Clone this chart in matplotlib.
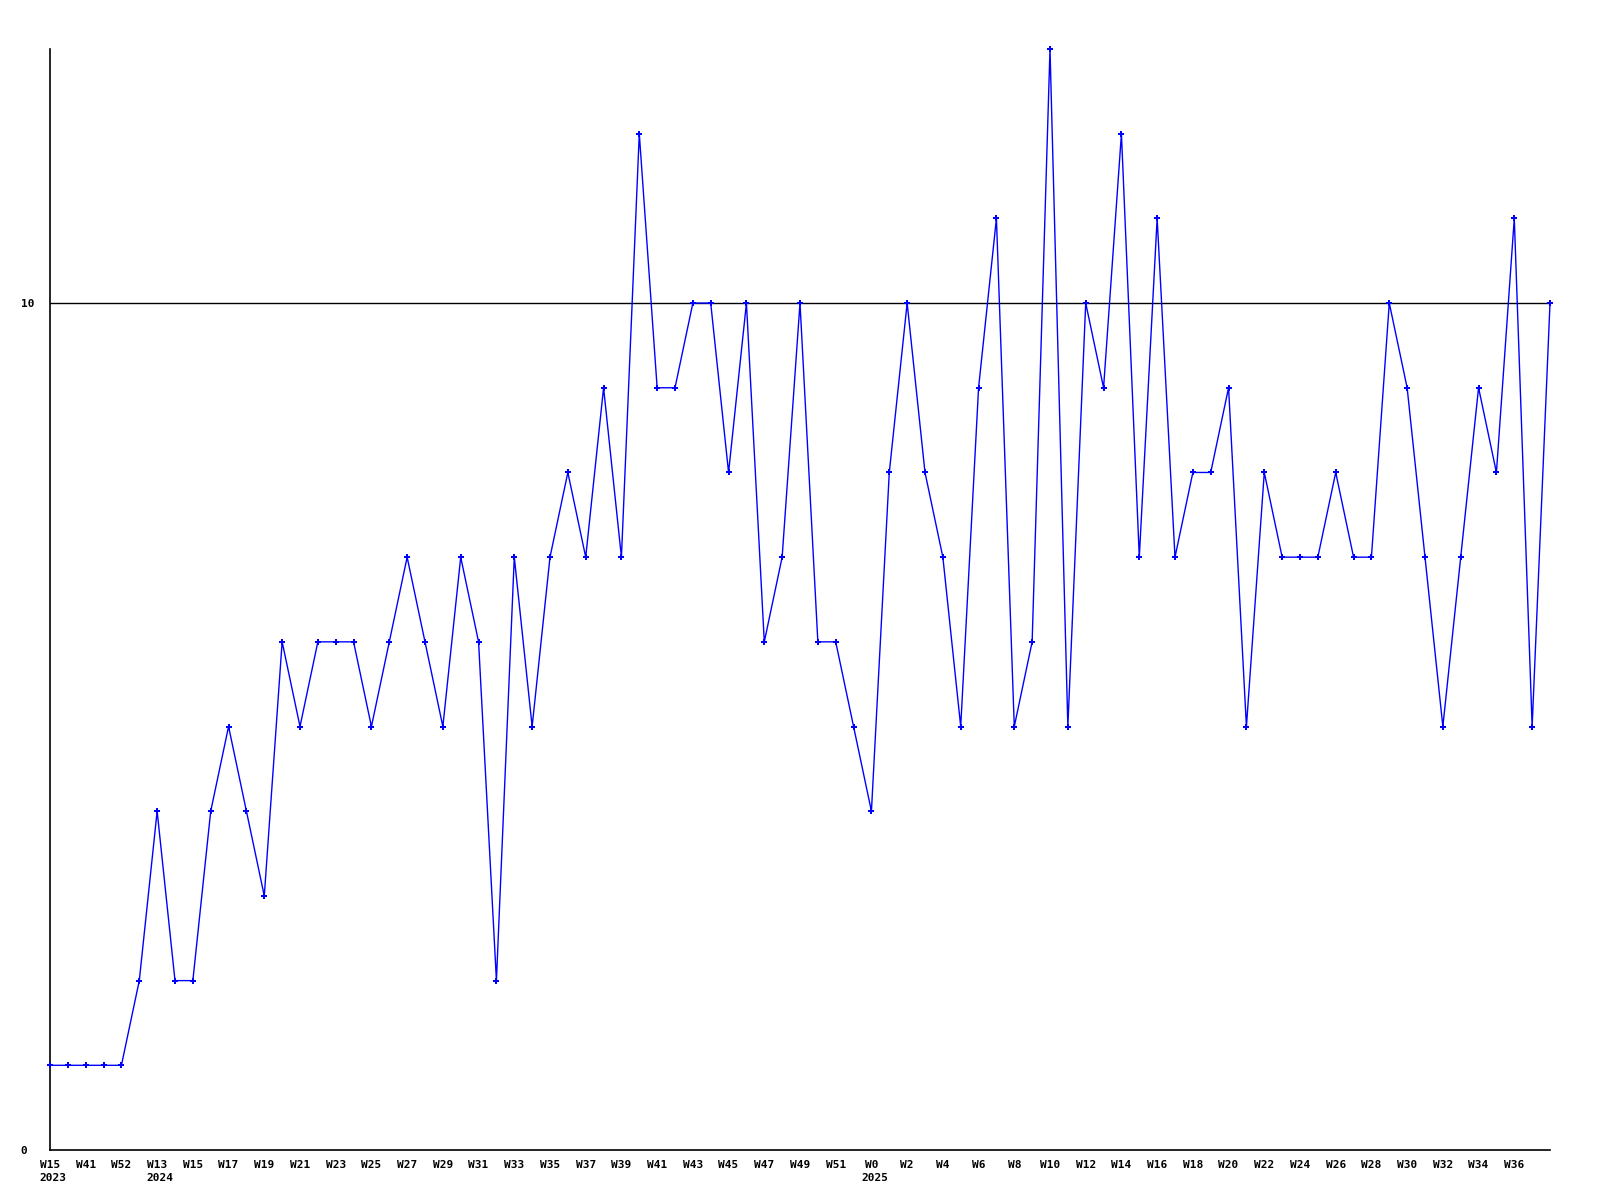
import matplotlib
matplotlib.use("Agg")
import matplotlib.pyplot as plt
import matplotlib.transforms as mtransforms

# weekly counts, one point per week
values = [1, 1, 1, 1, 1, 2, 4, 2, 2, 4,
          5, 4, 3, 6, 5, 6, 6, 6, 5, 6,
          7, 6, 5, 7, 6, 2, 7, 5, 7, 8,
          7, 9, 7, 12, 9, 9, 10, 10, 8, 10,
          6, 7, 10, 6, 6, 5, 4, 8, 10, 8,
          7, 5, 9, 11, 5, 6, 13, 5, 10, 9,
          12, 7, 11, 7, 8, 8, 9, 5, 8, 7,
          7, 7, 8, 7, 7, 10, 9, 7, 5, 7,
          9, 8, 11, 5, 10]

# labels shown on every second point
week_labels = ["W15", "W41", "W52", "W13", "W15", "W17", "W19", "W21", "W23", "W25",
               "W27", "W29", "W31", "W33", "W35", "W37", "W39", "W41", "W43", "W45",
               "W47", "W49", "W51", "W0", "W2", "W4", "W6", "W8", "W10", "W12",
               "W14", "W16", "W18", "W20", "W22", "W24", "W26", "W28", "W30", "W32",
               "W34", "W36"]
year_labels = {0: "2023", 6: "2024", 46: "2025"}

y_ticks = [0, 10]
y_max = 13

font = "DejaVu Sans Mono"

fig = plt.figure(figsize=(16, 12), dpi=100)
ax = fig.add_axes([50 / 1600, 1 - 1150 / 1200, 1500 / 1600, 1101 / 1200])

x = list(range(len(values)))
ax.plot(x, values, color="#0000ff", linewidth=1.0, marker="P", markersize=4,
        markeredgewidth=0, clip_on=False, zorder=3)

ax.axhline(10, color="black", linewidth=1, zorder=2)

ax.set_xlim(0, len(values) - 1)
ax.set_ylim(0, y_max)

for side in ["top", "right"]:
    ax.spines[side].set_visible(False)
ax.spines["left"].set_linewidth(1.2)
ax.spines["bottom"].set_linewidth(1.2)

ax.set_xticks(list(range(0, 2 * len(week_labels), 2)))
ax.set_xticklabels(week_labels, fontfamily=font, fontweight="bold", fontsize=8)
ax.tick_params(axis="x", length=0, pad=7)

ax.set_yticks(y_ticks)
ax.set_yticklabels([str(v) for v in y_ticks], fontfamily=font, fontweight="bold",
                   fontsize=8, ha="left")
ax.tick_params(axis="y", length=0, pad=21)

trans = mtransforms.blended_transform_factory(ax.transData, ax.transAxes)
for idx, yr in year_labels.items():
    ax.annotate(yr, xy=(idx, 0), xycoords=trans, xytext=(-7.5, -20),
                textcoords="offset points", ha="left", va="center",
                fontfamily=font, fontweight="bold", fontsize=8)

fig.savefig("out.png", dpi=100, facecolor="white")
